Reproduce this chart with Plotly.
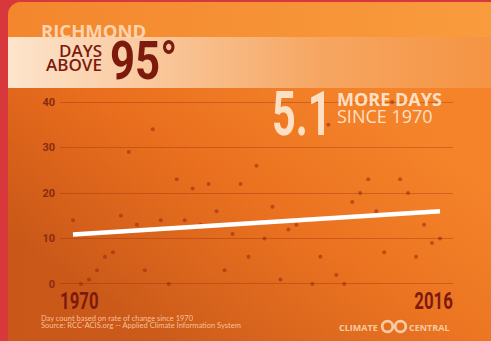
import base64
import plotly.graph_objects as go

# ---------------- data ----------------
years = list(range(1970, 2017))
days_above_95 = [14, 0, 1, 3, 6, 7, 15, 29, 13, 3,
                 34, 14, 0, 23, 14, 21, 13, 22, 16, 3,
                 11, 22, 6, 26, 10, 17, 1, 12, 13, 14,
                 0, 6, 35, 2, 0, 18, 20, 23, 16, 7,
                 40, 23, 20, 6, 13, 9, 10]
trend_years = [1970, 2016]
trend_days = [10.9, 16.0]
y_ticks = [0, 10, 20, 30, 40]
x_labels = ["1970", "2016"]

city = "RICHMOND"
headline = ["DAYS", "ABOVE", "95°"]
change_value = "5.1"
change_text = ["MORE DAYS", "SINCE 1970"]
notes = ["Day count based on rate of change since 1970",
         "Source: RCC-ACIS.org -- Applied Climate Information System"]
brand = ["CLIMATE", "CENTRAL"]

# ---------------- geometry ----------------
W, H = 491, 341
ML, MR, MT, MB = 60, 38, 95, 51
PW, PH = W - ML - MR, H - MT - MB


def px(x):
    return (x - ML) / PW


def py(y):
    return (H - MB - y) / PH


svg = f"""<svg xmlns='http://www.w3.org/2000/svg' width='{W}' height='{H}' viewBox='0 0 {W} {H}' preserveAspectRatio='none'>
<defs>
<clipPath id='c'><rect x='8' y='2' width='540' height='352' rx='13' ry='13'/></clipPath>
<linearGradient id='top' gradientUnits='userSpaceOnUse' x1='0' y1='0' x2='491' y2='0'>
<stop offset='0' stop-color='#f3862c'/><stop offset='1' stop-color='#f99c3e'/></linearGradient>
<linearGradient id='band' gradientUnits='userSpaceOnUse' x1='0' y1='0' x2='491' y2='0'>
<stop offset='0' stop-color='#fde6cf'/><stop offset='0.35' stop-color='#f9c496'/>
<stop offset='0.65' stop-color='#f6a662'/><stop offset='1' stop-color='#f59443'/></linearGradient>
<linearGradient id='main' gradientUnits='userSpaceOnUse' x1='330' y1='88' x2='170' y2='341'>
<stop offset='0' stop-color='#f27d25'/><stop offset='0.45' stop-color='#e86c1c'/>
<stop offset='1' stop-color='#c95718'/></linearGradient>
<linearGradient id='side' gradientUnits='userSpaceOnUse' x1='0' y1='0' x2='491' y2='0'>
<stop offset='0' stop-color='#ffa040' stop-opacity='0'/><stop offset='1' stop-color='#ffa040' stop-opacity='0.18'/></linearGradient>
</defs>
<rect width='{W}' height='{H}' fill='#d8383b'/>
<g clip-path='url(#c)'>
<rect x='0' y='0' width='{W}' height='{H}' fill='url(#main)'/>
<rect x='0' y='88' width='{W}' height='260' fill='url(#side)'/>
<rect x='0' y='0' width='{W}' height='37' fill='url(#top)'/>
<rect x='0' y='37' width='{W}' height='51' fill='url(#band)'/>
</g>
<circle cx='387.5' cy='326.5' r='5.3' fill='none' stroke='#f6caa2' stroke-width='2.8'/>
<circle cx='400.5' cy='326.5' r='5.3' fill='none' stroke='#f6caa2' stroke-width='2.8'/>
</svg>"""
bg_src = "data:image/svg+xml;base64," + base64.b64encode(svg.encode("utf-8")).decode("ascii")

NARROW = "Roboto, sans-serif"
SANS = "Open Sans, Lato, sans-serif"
DARK = "#7c1a0e"
PEACH = "#fde0c4"

fig = go.Figure()

fig.add_trace(go.Scatter(
    x=years, y=days_above_95, mode="markers",
    marker=dict(size=4, color="rgba(150,40,10,0.55)"),
    hoverinfo="skip", showlegend=False))

fig.add_trace(go.Scatter(
    x=trend_years, y=trend_days, mode="lines",
    line=dict(color="white", width=4.5),
    hoverinfo="skip", showlegend=False))

ann = []


def add_text(text, x, y, size, color, family, xanchor="left", weight="normal"):
    ann.append(dict(text=text, x=px(x), y=py(y), xref="paper", yref="paper",
                    xanchor=xanchor, yanchor="middle", showarrow=False,
                    font=dict(size=size, color=color, family=family, weight=weight)))


add_text(city, 39, 30.5, 18.5, "#fcd3ae", SANS, weight=700)
add_text(headline[0], 104, 50.5, 17, DARK, SANS, xanchor="right", weight=600)
add_text(headline[1], 104, 64.5, 17, DARK, SANS, xanchor="right", weight=600)
add_text(headline[2], 108, 61, 54, DARK, NARROW, weight=700)
add_text(change_value, 270, 113.5, 61, PEACH, NARROW, weight=700)
add_text(change_text[0], 335, 99, 18, PEACH, SANS, weight=700)
add_text(change_text[1], 335, 115.5, 18, PEACH, SANS)
add_text(x_labels[0], 58, 301.5, 23, DARK, NARROW, weight=700)
add_text(x_labels[1], 455, 301.5, 23, DARK, NARROW, xanchor="right", weight=700)
add_text(notes[0], 39, 318, 7.5, "rgba(252,208,170,0.9)", "Lato, Open Sans, sans-serif")
add_text(notes[1], 39, 325, 7.5, "rgba(252,208,170,0.9)", "Lato, Open Sans, sans-serif")
add_text(brand[0], 380, 327, 9, "#f6caa2", SANS, xanchor="right", weight=700)
add_text(brand[1], 407, 327, 9, "#f6caa2", SANS, weight=700)

fig.update_layout(
    width=W, height=H,
    margin=dict(l=ML, r=MR, t=MT, b=MB, pad=0),
    paper_bgcolor="#d8383b",
    plot_bgcolor="rgba(0,0,0,0)",
    images=[dict(source=bg_src, xref="paper", yref="paper",
                 x=px(0), y=py(0), sizex=W / PW, sizey=H / PH,
                 xanchor="left", yanchor="top", sizing="stretch", layer="below")],
    annotations=ann,
    xaxis=dict(range=[1968.37, 2017.63], showgrid=False, zeroline=False,
               showticklabels=False, showline=False, fixedrange=True),
    yaxis=dict(range=[-1.32, 41.54], tickvals=y_ticks, showgrid=True,
               gridcolor="rgba(150,40,10,0.35)", gridwidth=1, zeroline=False,
               showline=False, ticks="", ticklabelstandoff=4,
               tickfont=dict(size=11, color="#8a2a12", family=NARROW, weight=700),
               fixedrange=True),
    showlegend=False,
)

# remove the page margin and condense the display numerals (no condensed font installed)
post = """
document.body.style.margin='0';
document.body.style.padding='0';
var gd=document.getElementById('{plot_id}');
var spec={'95\\u00b0':[0.81,'l'],'5.1':[0.68,'l'],'1970':[0.73,'l'],'2016':[0.73,'r']};
gd.querySelectorAll('text.annotation-text').forEach(function(t){
  var s=spec[t.textContent]; if(!s) return;
  var b=t.getBBox(); var x0=(s[1]==='l')?b.x:b.x+b.width;
  var tr=t.getAttribute('transform')||'';
  t.setAttribute('transform', tr+' translate('+x0+',0) scale('+s[0]+',1) translate('+(-x0)+',0)');
});
"""

fig.write_html("out.html", config={"displayModeBar": False}, post_script=post)
